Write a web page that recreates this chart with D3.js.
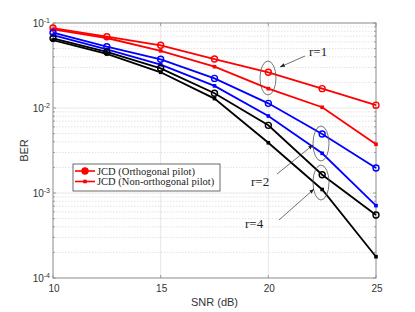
<!DOCTYPE html>
<html>
<head>
<meta charset="utf-8">
<script src="https://cdn.jsdelivr.net/npm/d3@7"></script>
<style>
  body { margin: 0; background: #fff; }
  svg { display: block; }
</style>
</head>
<body>
<div id="chart"></div>
<script>
// Data ------------------------------------------------------------------------
const snr = [10, 12.5, 15, 17.5, 20, 22.5, 25];
const r1Orth = [0.0873, 0.069, 0.0547, 0.0377, 0.0263, 0.0169, 0.0108];
const r1NonOrth = [0.084, 0.0666, 0.047, 0.0306, 0.0169, 0.0102, 0.00374];
const r2Orth = [0.0769, 0.0526, 0.0374, 0.0223, 0.01135, 0.00494, 0.00197];
const r2NonOrth = [0.072, 0.0488, 0.0324, 0.0182, 0.00805, 0.00293, 0.00071];
const r4Orth = [0.066, 0.0456, 0.0293, 0.0149, 0.00625, 0.00164, 0.00055];
const r4NonOrth = [0.063, 0.0432, 0.0263, 0.0129, 0.0039, 0.0011, 0.000178];
const xTicks = [10, 15, 20, 25];
const yTicks = [1e-4, 1e-3, 1e-2, 1e-1];
const yExponents = ["-4", "-3", "-2", "-1"];
const legendLabels = ["JCD (Orthogonal pilot)", "JCD (Non-orthogonal pilot)"];

const series = [
  { values: r1Orth, color: "#ff0000", marker: "circle" },
  { values: r1NonOrth, color: "#ff0000", marker: "square" },
  { values: r2Orth, color: "#0000ff", marker: "circle" },
  { values: r2NonOrth, color: "#0000ff", marker: "square" },
  { values: r4Orth, color: "#000000", marker: "circle" },
  { values: r4NonOrth, color: "#000000", marker: "square" }
];

// Setup -----------------------------------------------------------------------
const width = 415;
const height = 312;
const plot = { left: 53, right: 376, top: 23, bottom: 278 };
const axisColor = "#8a8a8a";

const svg = d3.select("#chart")
  .append("svg")
  .attr("width", width)
  .attr("height", height);

const x = d3.scaleLinear().domain([10, 25]).range([plot.left, plot.right]);
const y = d3.scaleLog().domain([1e-4, 1e-1]).range([plot.bottom, plot.top]);

// Grid ------------------------------------------------------------------------
const minor = [];
for (let e = -4; e < -1; e++) {
  for (let m = 2; m <= 9; m++) minor.push(m * Math.pow(10, e));
}

svg.append("g")
  .selectAll("line")
  .data(minor)
  .join("line")
  .attr("x1", plot.left).attr("x2", plot.right)
  .attr("y1", d => y(d)).attr("y2", d => y(d))
  .attr("stroke", "#dcdcdc")
  .attr("stroke-dasharray", "1.5,1.5")
  .attr("stroke-width", 0.8);

svg.append("g")
  .selectAll("line")
  .data(yTicks.slice(1, 3))
  .join("line")
  .attr("x1", plot.left).attr("x2", plot.right)
  .attr("y1", d => y(d)).attr("y2", d => y(d))
  .attr("stroke", "#e2e2e2")
  .attr("stroke-width", 0.8);

svg.append("g")
  .selectAll("line")
  .data(xTicks.slice(1, 3))
  .join("line")
  .attr("x1", d => x(d)).attr("x2", d => x(d))
  .attr("y1", plot.top).attr("y2", plot.bottom)
  .attr("stroke", "#e2e2e2")
  .attr("stroke-width", 0.8);

// Axes box and ticks ----------------------------------------------------------
svg.append("rect")
  .attr("x", plot.left).attr("y", plot.top)
  .attr("width", plot.right - plot.left)
  .attr("height", plot.bottom - plot.top)
  .attr("fill", "none")
  .attr("stroke", axisColor)
  .attr("stroke-width", 1);

const tickG = svg.append("g").attr("stroke", axisColor).attr("stroke-width", 0.8);
xTicks.forEach(t => {
  tickG.append("line").attr("x1", x(t)).attr("x2", x(t))
    .attr("y1", plot.bottom).attr("y2", plot.bottom - 3);
  tickG.append("line").attr("x1", x(t)).attr("x2", x(t))
    .attr("y1", plot.top).attr("y2", plot.top + 3);
});
yTicks.forEach(t => {
  tickG.append("line").attr("x1", plot.left).attr("x2", plot.left + 3)
    .attr("y1", y(t)).attr("y2", y(t));
  tickG.append("line").attr("x1", plot.right).attr("x2", plot.right - 3)
    .attr("y1", y(t)).attr("y2", y(t));
});
minor.forEach(t => {
  tickG.append("line").attr("x1", plot.left).attr("x2", plot.left + 2)
    .attr("y1", y(t)).attr("y2", y(t));
  tickG.append("line").attr("x1", plot.right).attr("x2", plot.right - 2)
    .attr("y1", y(t)).attr("y2", y(t));
});

const labelFont = "'Liberation Sans', Arial, sans-serif";

svg.append("g")
  .selectAll("text")
  .data(xTicks)
  .join("text")
  .attr("x", d => x(d) + 1)
  .attr("y", plot.bottom + 14)
  .attr("text-anchor", "middle")
  .attr("font-family", labelFont)
  .attr("font-size", 10)
  .attr("fill", "#333")
  .text(d => d);

const yLab = svg.append("g")
  .selectAll("text")
  .data(yTicks)
  .join("text")
  .attr("x", plot.left - 3)
  .attr("y", d => y(d) + 4)
  .attr("text-anchor", "end")
  .attr("font-family", labelFont)
  .attr("font-size", 10)
  .attr("fill", "#333");
yLab.append("tspan").text("10");
yLab.append("tspan")
  .attr("dy", -4)
  .attr("font-size", 7)
  .text((d, i) => yExponents[i]);

svg.append("text")
  .attr("x", (plot.left + plot.right) / 2)
  .attr("y", 306)
  .attr("text-anchor", "middle")
  .attr("font-family", labelFont)
  .attr("font-size", 11)
  .attr("fill", "#333")
  .text("SNR (dB)");

svg.append("text")
  .attr("transform", "translate(28," + ((plot.top + plot.bottom) / 2) + ") rotate(-90)")
  .attr("text-anchor", "middle")
  .attr("font-family", labelFont)
  .attr("font-size", 11)
  .attr("fill", "#333")
  .text("BER");

// Lines and markers -----------------------------------------------------------
const line = d3.line()
  .x((d, i) => x(snr[i]))
  .y(d => y(d));

function drawMarker(g, type, cx, cy, color, filled) {
  if (type === "circle") {
    g.append("circle").attr("cx", cx).attr("cy", cy).attr("r", 3)
      .attr("fill", filled ? color : "none")
      .attr("stroke", color).attr("stroke-width", 1.4);
  } else {
    g.append("rect").attr("x", cx - 1.8).attr("y", cy - 1.8)
      .attr("width", 3.6).attr("height", 3.6).attr("fill", color);
  }
}

series.forEach(s => {
  const g = svg.append("g");
  g.append("path")
    .attr("d", line(s.values))
    .attr("fill", "none")
    .attr("stroke", s.color)
    .attr("stroke-width", 1.8);
  s.values.forEach((v, i) => drawMarker(g, s.marker, x(snr[i]), y(v), s.color, false));
});

// Annotations -----------------------------------------------------------------
svg.append("defs").append("marker")
  .attr("id", "arrow")
  .attr("viewBox", "0 0 10 10")
  .attr("refX", 10).attr("refY", 5)
  .attr("markerWidth", 7).attr("markerHeight", 7)
  .attr("orient", "auto")
  .append("path")
  .attr("d", "M0,1 L10,5 L0,9 Z")
  .attr("fill", "#222");

const ellipses = [
  { cx: 268, cy: 78, rx: 8, ry: 17 },
  { cx: 321, cy: 143.5, rx: 8, ry: 17.5 },
  { cx: 321, cy: 182.5, rx: 8, ry: 17.5 }
];
svg.append("g")
  .selectAll("ellipse")
  .data(ellipses)
  .join("ellipse")
  .attr("cx", d => d.cx).attr("cy", d => d.cy)
  .attr("rx", d => d.rx).attr("ry", d => d.ry)
  .attr("fill", "none")
  .attr("stroke", "#555")
  .attr("stroke-width", 0.8);

const arrows = [
  [305, 56, 280, 67],
  [277, 174, 313, 145],
  [279, 220, 314, 189]
];
svg.append("g")
  .selectAll("line")
  .data(arrows)
  .join("line")
  .attr("x1", d => d[0]).attr("y1", d => d[1])
  .attr("x2", d => d[2]).attr("y2", d => d[3])
  .attr("stroke", "#333")
  .attr("stroke-width", 0.7)
  .attr("marker-end", "url(#arrow)");

const serif = "'Liberation Serif', 'Times New Roman', serif";
const notes = [
  { text: "r=1", x: 309, y: 56 },
  { text: "r=2", x: 251, y: 186 },
  { text: "r=4", x: 245, y: 228 }
];
svg.append("g")
  .selectAll("text")
  .data(notes)
  .join("text")
  .attr("x", d => d.x).attr("y", d => d.y)
  .attr("font-family", serif)
  .attr("font-size", 13)
  .attr("fill", "#222")
  .text(d => d.text);

// Legend ----------------------------------------------------------------------
const legend = svg.append("g");
legend.append("rect")
  .attr("x", 73).attr("y", 164)
  .attr("width", 147).attr("height", 27)
  .attr("fill", "#fff")
  .attr("stroke", "#444")
  .attr("stroke-width", 0.8);

legendLabels.forEach((lab, i) => {
  const ly = 171 + i * 10.5;
  legend.append("line")
    .attr("x1", 75).attr("x2", 95)
    .attr("y1", ly).attr("y2", ly)
    .attr("stroke", "#ff0000").attr("stroke-width", 1.6);
  drawMarker(legend, i === 0 ? "circle" : "square", 85, ly, "#ff0000", true);
  legend.append("text")
    .attr("x", 97).attr("y", ly + 3.5)
    .attr("font-family", serif)
    .attr("font-size", 10.5)
    .attr("fill", "#222")
    .text(lab);
});
</script>
</body>
</html>
